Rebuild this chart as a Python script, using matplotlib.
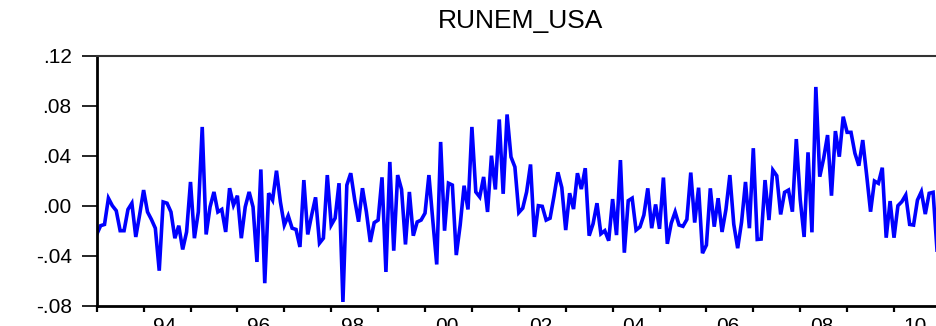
import matplotlib
matplotlib.use("Agg")
import matplotlib.pyplot as plt
import numpy as np

title = "RUNEM_USA"
start_year = 1993
runem_usa = [
    -0.023, -0.016, -0.015, 0.006, 0.000, -0.004, -0.020, -0.020, -0.003, 0.002, -0.025, -0.007,
    0.0125, -0.005, -0.011, -0.018, -0.052, 0.003, 0.002, -0.005, -0.026, -0.016, -0.035, -0.021,
    0.019, -0.026, -0.005, 0.063, -0.023, -0.001, 0.011, -0.005, -0.003, -0.021, 0.014, 0.0005,
    0.008, -0.026, -0.001, 0.011, -0.001, -0.045, 0.029, -0.062, 0.010, 0.0045, 0.028, 0.003,
    -0.0155, -0.008, -0.018, -0.019, -0.033, 0.0205, -0.023, -0.0075, 0.0067, -0.030, -0.026, 0.0245,
    -0.0155, -0.010, 0.018, -0.077, 0.0165, 0.026, 0.005, -0.0128, 0.014, -0.005, -0.029, -0.0136,
    -0.0115, 0.0227, -0.053, 0.035, -0.036, 0.0245, 0.013, -0.031, 0.011, -0.024, -0.013, -0.0115,
    -0.006, 0.0245, -0.012, -0.047, 0.051, -0.020, 0.018, 0.0165, -0.0395, -0.0155, 0.016, -0.003,
    0.063, 0.011, 0.007, 0.023, -0.005, 0.040, 0.013, 0.069, 0.0095, 0.073, 0.039, 0.031,
    -0.0055, -0.002, 0.011, 0.033, -0.025, 0.0, -0.0005, -0.0115, -0.010, 0.0075, 0.0267, 0.0145,
    -0.0195, 0.010, -0.0027, 0.026, 0.0133, 0.030, -0.024, -0.0145, 0.002, -0.0225, -0.020, -0.028,
    0.0053, -0.0235, 0.0365, -0.0376, 0.004, 0.006, -0.0195, -0.017, -0.0075, 0.0139, -0.018, 0.001,
    -0.0185, 0.0225, -0.0305, -0.014, -0.005, -0.0155, -0.0165, -0.011, 0.0265, -0.0135, 0.0144, -0.038,
    -0.0315, 0.0139, -0.0168, 0.006, -0.021, -0.003, 0.0245, -0.0148, -0.034, -0.013, 0.019, -0.018,
    0.046, -0.027, -0.0267, 0.0205, -0.0115, 0.0285, 0.024, -0.007, 0.0107, 0.0125, -0.0048, 0.0533,
    0.005, -0.025, 0.0427, -0.0213, 0.095, 0.0232, 0.0379, 0.0565, 0.008, 0.0597, 0.0392, 0.0712,
    0.0587, 0.0587, 0.0419, 0.032, 0.0525, 0.0245, -0.0048, 0.0197, 0.0179, 0.0304, -0.0256, 0.0037,
    -0.0256, 0.0, 0.0032, 0.0085, -0.015, -0.0155, 0.0045, 0.0112, -0.0067, 0.0099, 0.0107, -0.0355,
]
y_ticks = [-0.08, -0.04, 0.00, 0.04, 0.08, 0.12]
y_tick_labels = ["-.08", "-.04", ".00", ".04", ".08", ".12"]
year_labels = ["94", "96", "98", "00", "02", "04", "06", "08", "10"]

plt.rcParams['font.family'] = ['Liberation Sans', 'DejaVu Sans']

W, H, DPI = 936, 326, 100
fig = plt.figure(figsize=(W / DPI, H / DPI), dpi=DPI)
left, right, top, bottom = 96.7, 937.0, 55.7, 305.7
ax = fig.add_axes([left / W, 1 - bottom / H, (right - left) / W, (bottom - top) / H])

months = np.arange(len(runem_usa))
ax.plot(months, runem_usa, color="#0000FF", lw=2.6, solid_joinstyle="miter")

ax.set_xlim(0, len(runem_usa) - 1)
ax.set_ylim(-0.08, 0.12)
ax.set_yticks(y_ticks)
ax.set_yticklabels(y_tick_labels)

year_starts = np.arange(0, len(runem_usa), 12)
ax.set_xticks(year_starts)
ax.set_xticklabels([])
label_pos = [(int("19" + l if int(l) > 50 else "20" + l) - start_year) * 12 + 5.5 for l in year_labels]
ax.set_xticks(label_pos, minor=True)
ax.set_xticklabels(year_labels, minor=True)

ax.tick_params(axis="y", which="major", length=11, width=1.2, pad=7, labelsize=15, colors="black")
ax.tick_params(axis="x", which="major", length=4.5, width=1.6, direction="out")
ax.tick_params(axis="x", which="minor", length=0, pad=8, labelsize=15)

for s in ["left", "bottom"]:
    ax.spines[s].set_linewidth(2.0)
    ax.spines[s].set_color("black")
ax.spines["top"].set_linewidth(1.5)
ax.spines["top"].set_color("#333333")
ax.spines["right"].set_visible(False)

fig.text(521 / W, 1 - 21 / H, title, ha="center", va="center", fontsize=19)

fig.savefig("out.png", dpi=DPI)
